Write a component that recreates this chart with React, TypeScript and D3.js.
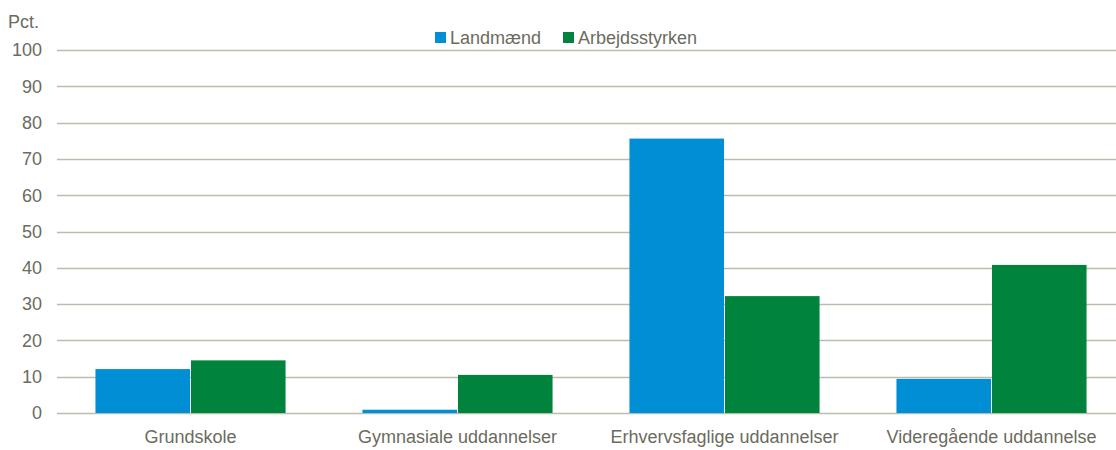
import React, {useEffect, useRef} from 'react'
import * as d3 from 'd3'

const categories = [
  'Grundskole',
  'Gymnasiale uddannelser',
  'Erhvervsfaglige uddannelser',
  'Videregående uddannelse',
]
const seriesNames = ['Landmænd', 'Arbejdsstyrken']
const landmaend = [12.1, 0.9, 75.6, 9.4]
const arbejdsstyrken = [14.5, 10.5, 32.2, 40.8]
const yTicks = [0, 10, 20, 30, 40, 50, 60, 70, 80, 90, 100]
const colors = ['#008fd5', '#00843d']

const width = 1116
const height = 450
const margin = {top: 50, right: -9, bottom: 37, left: 57}
const textColor = '#6b6b5e'
const font = '"Liberation Sans", Arial, sans-serif'

const App = () => {
  const chartRef = useRef<SVGSVGElement | null>(null)

  useEffect(() => {
    drawChart()
  }, [])

  const drawChart = () => {
    const svg = d3.select(chartRef.current)
    svg.selectAll('*').remove()

    const innerWidth = width - margin.left - margin.right
    const innerHeight = height - margin.top - margin.bottom

    const x = d3
      .scaleBand()
      .domain(categories)
      .range([0, innerWidth])
      .paddingInner(0.288)
      .paddingOuter(0.144)

    const xSub = d3
      .scaleBand()
      .domain(seriesNames)
      .range([0, x.bandwidth()])
      .paddingInner(0.01)

    const y = d3.scaleLinear().domain([0, 100]).range([innerHeight, 0])

    const g = svg
      .append('g')
      .attr('transform', `translate(${margin.left},${margin.top})`)

    // gridlines
    g.selectAll('line.grid')
      .data(yTicks)
      .enter()
      .append('line')
      .attr('class', 'grid')
      .attr('x1', 0)
      .attr('x2', innerWidth)
      .attr('y1', d => Math.round(y(d)) + 0.5)
      .attr('y2', d => Math.round(y(d)) + 0.5)
      .attr('stroke', '#bcbcae')
      .attr('stroke-width', 1.3)

    // y tick labels
    g.selectAll('text.ytick')
      .data(yTicks)
      .enter()
      .append('text')
      .attr('class', 'ytick')
      .attr('x', -15)
      .attr('y', d => y(d))
      .attr('dy', '0.35em')
      .attr('text-anchor', 'end')
      .style('font-family', font)
      .style('font-size', '18px')
      .attr('fill', textColor)
      .text(d => d)

    const series = [landmaend, arbejdsstyrken]

    const groups = g
      .selectAll('g.cat')
      .data(categories)
      .enter()
      .append('g')
      .attr('class', 'cat')
      .attr('transform', d => `translate(${x(d)},0)`)

    groups
      .selectAll('rect')
      .data((d, i) => seriesNames.map((s, j) => ({s, v: series[j][i], j})))
      .enter()
      .append('rect')
      .attr('x', d => xSub(d.s)!)
      .attr('y', d => y(d.v))
      .attr('width', xSub.bandwidth())
      .attr('height', d => innerHeight - y(d.v))
      .attr('fill', d => colors[d.j])

    // x labels
    g.selectAll('text.xlab')
      .data(categories)
      .enter()
      .append('text')
      .attr('class', 'xlab')
      .attr('x', d => x(d)! + x.bandwidth() / 2)
      .attr('y', innerHeight + 30)
      .attr('text-anchor', 'middle')
      .style('font-family', font)
      .style('font-size', '18px')
      .attr('fill', textColor)
      .text(d => d)

    // unit label
    svg
      .append('text')
      .attr('x', 8)
      .attr('y', 28)
      .style('font-family', font)
      .style('font-size', '18px')
      .attr('fill', textColor)
      .text('Pct.')

    // legend
    const legendX = [435, 563]
    const legend = svg
      .selectAll('g.legend')
      .data(seriesNames)
      .enter()
      .append('g')
      .attr('class', 'legend')
      .attr('transform', (d, i) => `translate(${legendX[i]},32)`)

    legend
      .append('rect')
      .attr('width', 11)
      .attr('height', 11)
      .attr('fill', (d, i) => colors[i])

    legend
      .append('text')
      .attr('x', 15)
      .attr('y', 12)
      .style('font-family', font)
      .style('font-size', '18px')
      .attr('fill', textColor)
      .text(d => d)
  }

  return (
    <svg
      ref={chartRef}
      width={width}
      height={height}
      style={{position: 'absolute', left: 0, top: 0, background: '#fff'}}
    ></svg>
  )
}

export default App
